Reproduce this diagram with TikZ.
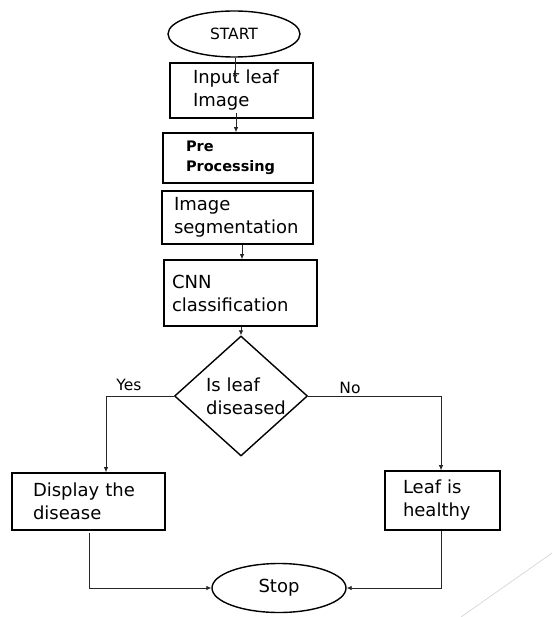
\documentclass[tikz,border=0pt]{standalone}
\usepackage{fontspec}
\setmainfont{DejaVu Sans}
\usetikzlibrary{shapes.geometric,arrows.meta}
\begin{document}
\begin{tikzpicture}[x=1pt,y=-1pt,
  every node/.style={font=\fontsize{18}{23}\selectfont},
  box/.style={draw,line width=1.6pt,rectangle,align=left,anchor=center},
  term/.style={draw,line width=1.4pt,ellipse,inner sep=0pt},
  decide/.style={draw,line width=1.4pt,diamond,inner sep=0pt,minimum width=133pt,minimum height=120pt},
  conn/.style={line width=0.8pt,draw=black!85,-{Latex[length=5pt,width=4.5pt]}},
  lbl/.style={font=\fontsize{15.5}{18}\selectfont,inner sep=0pt}]
\useasboundingbox (0,0) rectangle (552,617);

% terminals
\node[term,minimum width=132pt,minimum height=46pt,font=\fontsize{15.5}{18}\selectfont] (start) at (234,34) {START};
\node[term,minimum width=134pt,minimum height=49pt] (stop) at (279,588) {Stop};

% processing steps
\node[box,minimum width=143pt,minimum height=55pt,text width=97pt,inner xsep=0pt] (input) at (241.5,90.5) {Input leaf\\Image};
\node[box,minimum width=150pt,minimum height=50pt,text width=104pt,inner xsep=0pt,font=\bfseries\fontsize{14.5}{20}\selectfont] (pre) at (238,158) {Pre\\Processing};
\node[box,minimum width=151pt,minimum height=53pt,text width=127pt,inner xsep=0pt] (seg) at (237.5,217.5) {Image\\segmentation};
\node[box,minimum width=153pt,minimum height=66pt,text width=137pt,inner xsep=0pt] (cnn) at (240.5,293) {CNN\\classification};

% decision: fixed-size diamond, question set inside it
\node[decide] (dec) at (241,396) {};
\node[align=left,inner sep=0pt] (dectext) at (246,396) {Is leaf\\diseased};

% outcomes
\node[box,minimum width=153pt,minimum height=57pt,text width=111pt,inner xsep=0pt] (show) at (88.5,501.5) {Display the\\disease};
\node[box,minimum width=115pt,minimum height=59pt,text width=79pt,inner xsep=0pt] (healthy) at (442.5,500.5) {Leaf is\\healthy};

% branch labels
\node[lbl] (yes) at (129,385) {Yes};
\node[lbl] (no) at (350,388) {No};

% connector end points
\coordinate (inEnd) at (235,80);
\coordinate (inOut) at (236,113);
\coordinate (showOut) at (89,533);

% connectors
\draw[conn] (start.south -| inEnd) -- (inEnd);
\draw[conn] (inOut) -- (inOut |- pre.north);
\draw[conn] (seg.south -| 242,0) -- (cnn.north -| 242,0);
\draw[conn] (cnn.south -| dec.north) -- (dec.north);
\draw[conn] (dec.west) -| (show.north -| 106,0);
\draw[conn] (dec.east) -| (healthy.north -| 441,0);
\draw[conn] (showOut) |- (stop.west);
\draw[conn] (healthy.south -| 441,0) |- (stop.east);

% slide decoration
\draw[black!18,line width=0.6pt] (461,617) -- (552,553);
\end{tikzpicture}
\end{document}
